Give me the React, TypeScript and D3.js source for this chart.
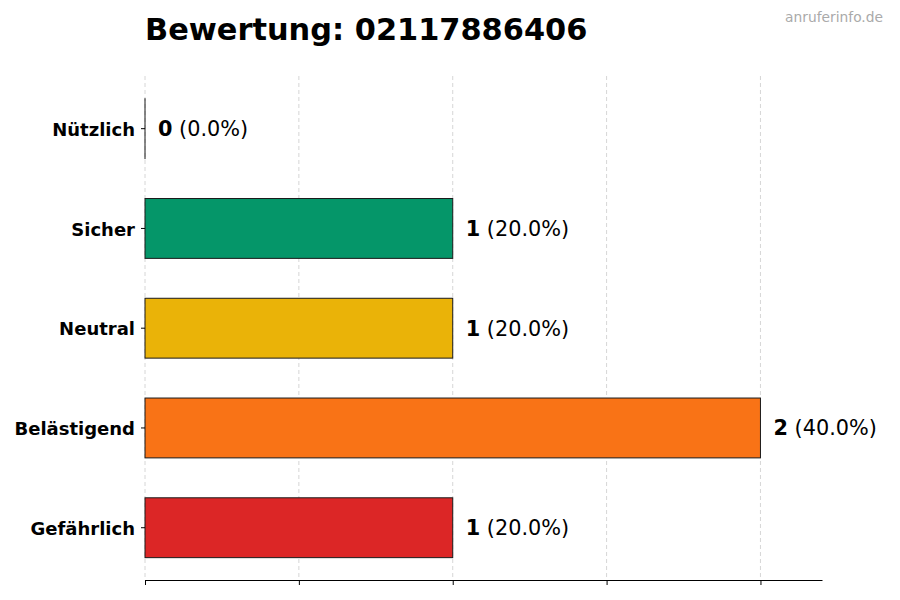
import React, {useRef, useEffect} from 'react'
import * as d3 from 'd3'

const categories = ['Nützlich', 'Sicher', 'Neutral', 'Belästigend', 'Gefährlich']
const counts = [0, 1, 1, 2, 1]
const percents = ['0.0%', '20.0%', '20.0%', '40.0%', '20.0%']
const colors = ['#6b7280', '#059669', '#eab308', '#f97316', '#dc2626']
const xTicks = [0, 0.5, 1, 1.5, 2]
const xMax = 2.2
const title = 'Bewertung: 02117886406'
const watermark = 'anruferinfo.de'

const font = 'DejaVu Sans, sans-serif'

export default function App() {
	const ref = useRef<SVGSVGElement>(null)
	const layout = {width: 900, height: 600, left: 145, right: 822, top: 78, bottom: 580}

	useEffect(() => {
		const svg = d3.select(ref.current)
		svg.selectAll('*').remove()

		const x = d3.scaleLinear().domain([0, xMax]).range([layout.left, layout.right])
		const y = d3.scaleBand().domain(categories).range([layout.top + 0.8, layout.bottom - 2.4]).paddingInner(0.4).paddingOuter(0.2)

		// grid
		svg.append('g')
			.selectAll('line')
			.data(xTicks)
			.join('line')
			.attr('x1', d => x(d)).attr('x2', d => x(d))
			.attr('y1', layout.top - 2).attr('y2', layout.bottom)
			.attr('stroke', '#cccccc')
			.attr('stroke-width', 0.8)
			.attr('stroke-dasharray', '4,3')

		// bars
		const data = categories.map((c, i) => ({c, v: counts[i], p: percents[i], col: colors[i]}))
		svg.append('g')
			.selectAll('rect')
			.data(data)
			.join('rect')
			.attr('x', x(0))
			.attr('y', d => y(d.c)!)
			.attr('width', d => Math.max(x(d.v) - x(0), 0.01))
			.attr('height', y.bandwidth())
			.attr('fill', d => d.col)
			.attr('stroke', '#1a1a1a')
			.attr('stroke-width', 1)

		// value labels
		const lab = svg.append('g')
			.selectAll('text')
			.data(data)
			.join('text')
			.attr('x', d => x(d.v) + 13)
			.attr('y', d => y(d.c)! + y.bandwidth() / 2)
			.attr('dy', '0.36em')
			.attr('font-family', font)
			.attr('font-size', 20.8)
			.attr('fill', '#000')
		lab.append('tspan').attr('font-weight', 'bold').text(d => String(d.v))
		lab.append('tspan').text(d => ` (${d.p})`)

		// y axis
		const gy = svg.append('g').attr('transform', `translate(${layout.left},0)`)
			.call(d3.axisLeft(y).tickSize(4).tickPadding(6))
		gy.select('.domain').remove()
		gy.selectAll('text').attr('font-family', font).attr('font-size', 18).attr('font-weight', 'bold').attr('fill', '#000').attr('dy', '0.4em')
		gy.selectAll('line').attr('stroke', '#000')

		// x axis
		const gx = svg.append('g').attr('transform', `translate(0,${layout.bottom})`)
			.call(d3.axisBottom(x).tickValues(xTicks).tickSize(5).tickFormat(() => '').tickSizeOuter(0))
		gx.select('.domain').attr('stroke', '#000').attr('stroke-width', 1)
		gx.selectAll('line').attr('stroke', '#000')

		svg.append('text')
			.attr('x', layout.left).attr('y', 40)
			.attr('font-family', font).attr('font-size', 30.4).attr('font-weight', 'bold')
			.text(title)

		svg.append('text')
			.attr('x', 883).attr('y', 22)
			.attr('text-anchor', 'end')
			.attr('font-family', font).attr('font-size', 13.8).attr('fill', '#aaaaaa')
			.text(watermark)
	}, [])

	return (
		<svg ref={ref} width={layout.width} height={layout.height}
			style={{position: 'absolute', left: 0, top: 0, background: '#fff'}} />
	)
}
